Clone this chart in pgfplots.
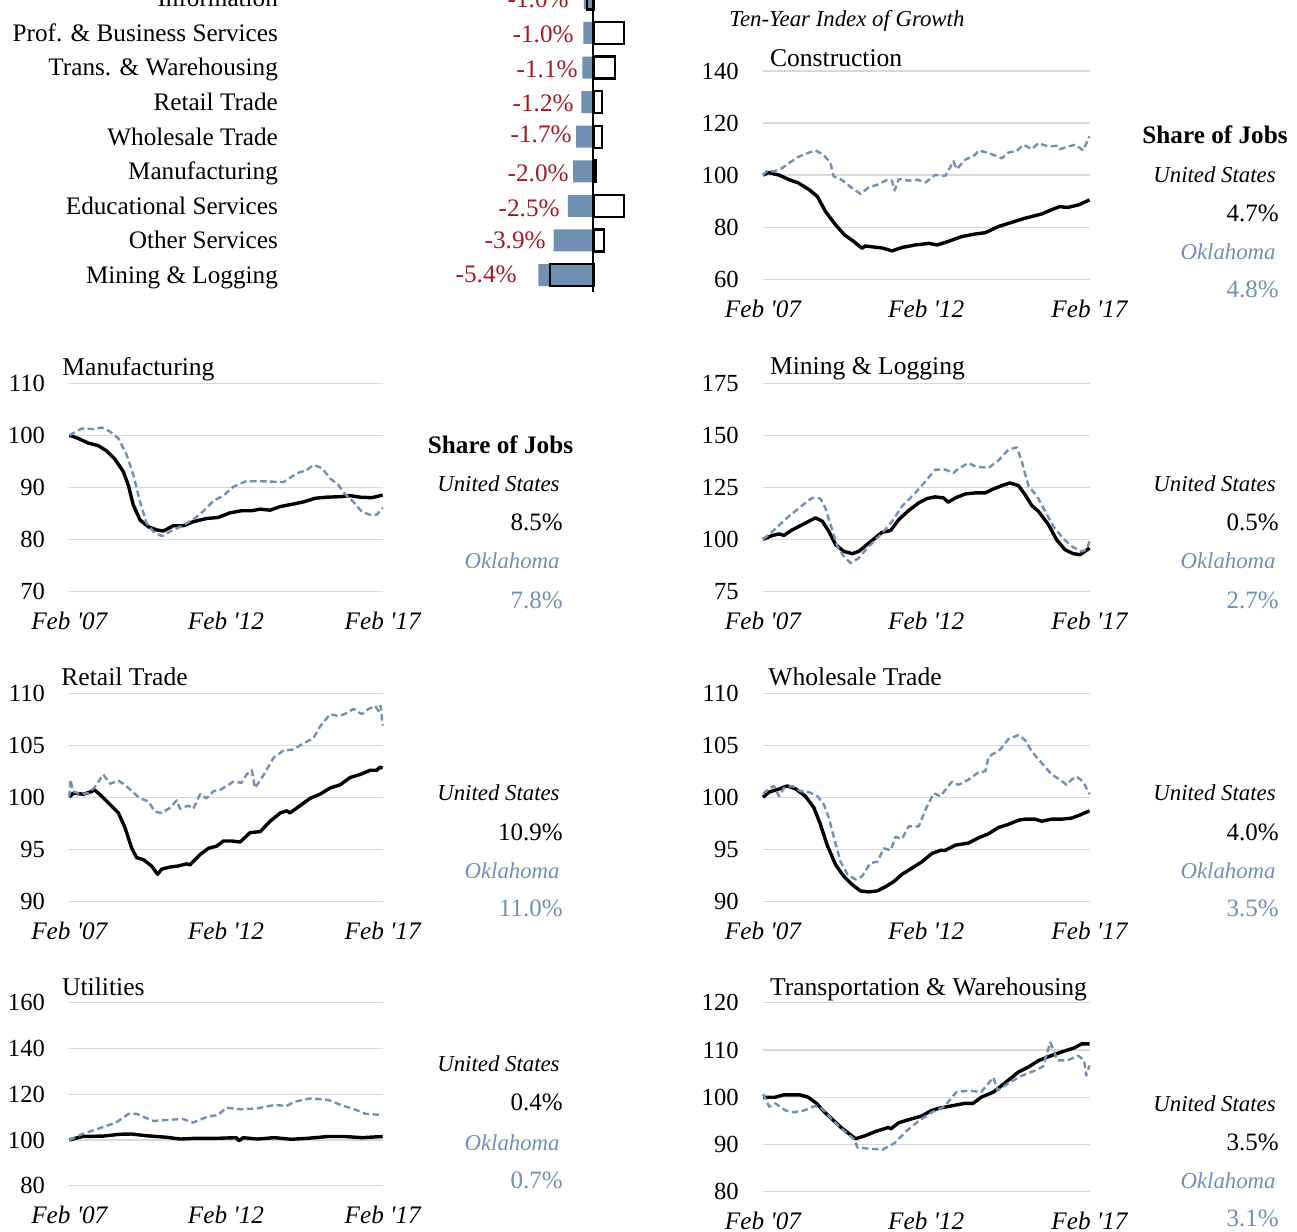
\documentclass[border=0pt]{standalone}
\usepackage{fontspec}
\setmainfont{Liberation Serif}
\usepackage{pgfplots}
\pgfplotsset{compat=1.18}
\definecolor{okblue}{RGB}{112,144,180}
\definecolor{lblred}{RGB}{160,28,36}
\definecolor{gridgray}{RGB}{217,217,217}
\newcommand\tickit{\fontsize{12.6}{15}\selectfont\itshape}
\newcommand\tickf{\fontsize{12.3}{15}\selectfont}
\newcommand\titlef{\fontsize{12.8}{15}\selectfont}
\newcommand\catf{\fontsize{12.6}{15}\selectfont}
\newcommand\itf{\fontsize{11.4}{14}\selectfont\itshape}
\newcommand\pctf{\fontsize{12.5}{15}\selectfont}
\pgfplotsset{
 panel/.style={scale only axis, anchor=south west, xmin=0, xmax=120,
   xtick={0,60,120}, xticklabels={Feb \textquotesingle07,Feb \textquotesingle12,Feb \textquotesingle17},
   axis line style={draw=none}, tick style={draw=none},
   ymajorgrids, grid style={gridgray, line width=0.7pt},
   xticklabel style={font=\tickit, anchor=base, inner sep=0pt, yshift=-19pt},
   yticklabel style={font=\tickf, anchor=east, inner sep=0pt, xshift=-12pt},
   /pgf/number format/assume math mode=true,
   clip=false},
 us/.style={black, line width=1.7pt, line join=round},
 ok/.style={okblue, line width=1.2pt, line join=round, dash pattern=on 3.2pt off 1.8pt},
}
\begin{document}
\begin{tikzpicture}
\useasboundingbox (0,0) rectangle (648.5pt,-616pt);
\clip (0,0) rectangle (648.5pt,-616pt);

% ---------------- bar chart -----------------
\begin{axis}[at={(266.15pt,-146.15pt)}, anchor=south west, scale only axis,
  width=51pt, height=155.6pt, xmin=-6, xmax=4, ymin=-0.5, ymax=8.5, y dir=reverse,
  axis line style={draw=none}, tick style={draw=none}, xtick=\empty,
  ytick={0,...,8},
  yticklabels={Information,Prof. \& Business Services,Trans. \& Warehousing,Retail Trade,Wholesale Trade,Manufacturing,Educational Services,Other Services,Mining \& Logging},
  yticklabel style={font=\catf, anchor=base east, inner sep=0pt, xshift=-127pt, yshift=-4.2pt},
  clip=false]
\addplot[xbar, bar shift=0pt, bar width=11pt, fill=okblue, draw=none]
  coordinates {(-0.95,0) (-1.0,1) (-1.1,2) (-1.2,3) (-1.7,4) (-2.0,5) (-2.5,6) (-3.9,7) (-5.4,8)};
\addplot[xbar, bar shift=0pt, bar width=11pt, fill=none, draw=black, line width=1.1pt]
  coordinates {(-0.6,0) (3.0,1) (2.1,2) (0.85,3) (0.85,4) (0.2,5) (3.0,6) (1.0,7) (-4.3,8)};
\draw[black, line width=1pt] (axis cs:0,-0.5) -- (axis cs:0,8.5);
\end{axis}

% ---------------- Construction -----------------
\begin{axis}[panel, at={(381.5pt,-139.65pt)}, width=163.25pt, height=104.15pt,
  ymin=60, ymax=140, ytick={60,80,100,120,140}]
\addplot[us] coordinates {(0,100) (2,101) (6,100) (9.5,98.3) (13,97) (17,94.4) (20,91.8) (23,86) (26.7,80.9) (30,77) (33.4,74.5) (36.4,71.9) (37.5,72.8) (44,72) (47.4,70.9) (51,72.2) (56,73.2) (61,73.8) (64,73.2) (68,74.5) (73,76.4) (78,77.4) (81.7,77.9) (86.6,80.3) (91.5,81.9) (96.4,83.5) (102.5,85.1) (106,86.7) (109,87.9) (112,87.6) (116,88.6) (120,90.5)};
\addplot[ok] coordinates {(0,100) (1.5,101.7) (4,101.4) (7,102.7) (9.5,104.6) (12.6,106.8) (15.6,108.2) (19.3,109.5) (22.3,107.8) (24.8,104.6) (26,99.5) (29,98.2) (32.8,95) (35.8,92.8) (38.8,95.3) (42.5,96.5) (45.6,98.2) (47.4,97.9) (48.4,94.1) (49.9,98.5) (53.5,97.9) (57,98.2) (59.7,97.2) (63.3,100.1) (67,99.7) (70,105.3) (71.2,102.3) (74.3,105.9) (78,107.8) (79.2,109.5) (82.9,108.5) (87.8,106.5) (90.2,108.7) (93.3,109.4) (95.8,111.7) (98.8,110) (101.2,112.3) (104.9,111) (108,111.3) (109.1,110) (111.6,110.8) (114.7,111.7) (117.7,109.5) (120,114.9)};
\end{axis}

% ---------------- Manufacturing -----------------
\begin{axis}[panel, at={(34.65pt,-295.65pt)}, width=156.7pt, height=104pt,
  ymin=70, ymax=110, ytick={70,80,90,100,110}]
\addplot[us] coordinates {(0,100) (3.4,99.4) (7.3,98.5) (11.1,98) (14.3,97) (17.5,95.4) (20.7,93) (22.6,90.4) (24.5,86.6) (27.1,83.7) (30.3,82.4) (33.5,81.8) (36,81.6) (39.8,82.6) (43.7,82.6) (47.5,83.4) (52.6,84) (57,84.2) (61.6,85.1) (66,85.5) (69.9,85.5) (73.1,85.8) (76.9,85.6) (80.8,86.3) (86,86.8) (89.7,87.2) (94.2,87.9) (98.6,88.1) (103.8,88.2) (107.5,88.4) (111.4,88.1) (115.8,88) (120,88.5)};
\addplot[ok] coordinates {(0,100) (4.7,101.3) (9.2,101.2) (12.4,101.5) (15.6,100.7) (18.8,99.4) (22,96.2) (24.5,92.4) (27.1,87.2) (29.6,83.1) (32.2,81.5) (35.4,80.6) (38.6,81.5) (42.4,82.4) (47.5,83.8) (51.3,85.4) (55.2,87.4) (59,88.4) (62.8,90.1) (67.3,91.1) (71.7,91.2) (76.9,91.1) (82,91) (87.1,92.7) (90.9,93.3) (93.5,94.3) (96.7,93.7) (99.9,91.7) (103.1,90.4) (105.6,88.7) (108.8,87.2) (112,85.3) (115.2,84.7) (117.7,84.7) (120,86.1)};
\end{axis}

% ---------------- Mining -----------------
\begin{axis}[panel, at={(381.5pt,-295.65pt)}, width=163.25pt, height=104pt,
  ymin=75, ymax=175, ytick={75,100,125,150,175}]
\addplot[us] coordinates {(0,100) (3.4,101.8) (5.9,102.6) (7.7,101.9) (10.8,104.6) (14.4,107) (16.9,108.7) (19.3,110.3) (21.8,108.7) (24.2,103.8) (26.7,97.4) (29.7,94.2) (32.8,93.1) (35.2,94.2) (38.9,98.2) (43.8,103.4) (46.9,104.2) (49.9,109.5) (53.5,113.8) (57.2,117.5) (60.3,119.6) (63.3,120.4) (66.4,119.9) (68,117.8) (70.7,119.9) (74.3,121.8) (78,122.3) (81.7,122.3) (84.1,123.9) (87.8,125.8) (90.8,127.1) (93.9,125.8) (96.3,121.5) (98.8,116.2) (101.2,113.5) (104.9,107.1) (107.9,99.8) (111,95) (114,93.1) (116.5,92.6) (118.3,94.2) (120,95.8)};
\addplot[ok] coordinates {(0,100) (2.8,103) (5.9,106.7) (9.5,111.1) (12.6,114.3) (15.6,117.5) (18.1,119.9) (21.1,119.6) (22.9,115.1) (24.8,107.1) (27.3,96.6) (29.7,91.8) (32.2,88.6) (35.2,91) (38.9,96.6) (43.8,103) (47.5,108.7) (51.1,115.9) (56,122.3) (59.7,127.9) (63.3,133.5) (67,133.5) (70,131.9) (71.9,134) (75.5,136.7) (78,135.1) (82.9,134.3) (86.6,138) (90.2,143.1) (93.3,144.2) (95.1,137.5) (97.6,125.5) (100.6,121) (103.7,113.5) (106.7,106.3) (110.4,100.2) (114,96.2) (117.1,94.2) (118.9,95) (120,99)};
\end{axis}

% ---------------- Retail -----------------
\begin{axis}[panel, at={(34.65pt,-450.65pt)}, width=156.7pt, height=104pt,
  ymin=90, ymax=110, ytick={90,95,100,105,110}]
\addplot[us] coordinates {(0,100) (1.5,100.4) (5.4,100.3) (7.9,100.5) (9.8,100.7) (12.4,100.1) (15.6,99.3) (18.8,98.5) (21.3,97.1) (23.9,95.1) (25.8,94.2) (28.4,94) (31.5,93.4) (33.8,92.6) (35.4,93.1) (38.6,93.3) (41.8,93.4) (44.9,93.6) (46.2,93.5) (50.1,94.5) (53.3,95.1) (56.4,95.3) (59,95.8) (62.2,95.8) (65.4,95.7) (69.2,96.6) (73.1,96.7) (76.9,97.7) (80.8,98.5) (83.3,98.7) (84.5,98.5) (88.4,99.2) (92.2,99.9) (96,100.3) (99.9,100.9) (103.7,101.2) (107.5,101.9) (111.4,102.2) (115.2,102.6) (117.7,102.6) (119,102.9) (120,102.8)};
\addplot[ok] coordinates {(0,100) (0.5,101.7) (1.3,100.6) (4.1,100.3) (7.3,100.4) (9.8,101) (13,102.2) (15.6,101.3) (18.8,101.6) (21.3,101.2) (23.9,100.6) (27.1,99.9) (30.3,99.6) (32.8,98.6) (35.4,98.5) (38.6,99) (41.1,99.7) (42.4,98.9) (45.6,99.2) (47.5,98.9) (50.1,100.3) (52.6,99.9) (55.2,100.6) (57.7,100.7) (60.3,101.1) (62.8,101.5) (66,101.4) (67.9,102.2) (69.9,102.6) (71.1,100.9) (74.3,102.1) (78.2,103.8) (82,104.5) (85.9,104.6) (88.4,105) (93.5,105.7) (96,106.8) (99.9,108) (103.1,107.8) (106.3,108.1) (108.8,108.5) (112,108) (114.6,108.5) (117.1,108.8) (118.4,108.3) (119.2,108.8) (120,106.9)};
\end{axis}

% ---------------- Wholesale -----------------
\begin{axis}[panel, at={(381.5pt,-450.65pt)}, width=163.25pt, height=104pt,
  ymin=90, ymax=110, ytick={90,95,100,105,110}]
\addplot[us] coordinates {(0,100) (2.2,100.5) (5.9,100.8) (8.9,101.1) (12,100.8) (15.6,100.1) (18.7,99) (21.1,97.4) (23.6,95.4) (26.7,93.5) (29.7,92.4) (32.8,91.6) (35.8,91) (38.9,90.9) (42,91) (45,91.4) (48.1,91.9) (51.1,92.6) (54.8,93.2) (58.4,93.8) (62.1,94.6) (65.2,94.9) (67,94.9) (70.7,95.4) (75.5,95.6) (79.2,96.1) (82.9,96.5) (86.6,97.1) (90.2,97.4) (93.9,97.8) (96.3,97.9) (100,97.9) (102.4,97.7) (106.1,97.9) (109.8,97.9) (113.4,98) (116.5,98.3) (120,98.7)};
\addplot[ok] coordinates {(0,100.3) (1.6,100.7) (4,101.1) (5.9,100.1) (7.7,100.9) (10.8,101.1) (13.8,100.6) (16.9,100.5) (20,100.1) (22.4,99.3) (24.2,98) (26.1,96.1) (28.5,93.8) (31,92.6) (34,92.1) (36.4,92.4) (39.5,93.7) (42,93.8) (44.4,95.1) (46.9,94.9) (48.7,96.2) (51.1,96) (53.5,97.2) (57.2,97.2) (59.7,98.8) (62.7,100.4) (65.2,100.1) (69.4,101.5) (71.9,101.2) (75.5,101.7) (79.2,102.4) (81.7,102.5) (82.9,103.9) (87.2,104.6) (90.2,105.6) (93.9,106) (96.3,105.5) (98.8,104.4) (102.4,103.3) (106.1,102.2) (109.1,101.7) (111.6,101.2) (113.4,101.7) (115.2,102) (117.7,101.5) (120,100.3)};
\end{axis}

% ---------------- Utilities -----------------
\begin{axis}[panel, at={(34.65pt,-592.85pt)}, width=156.7pt, height=91.5pt,
  ymin=80, ymax=160, ytick={80,100,120,140,160}]
\addplot[us] coordinates {(0,100) (5,101.5) (13,101.7) (19.5,102.5) (24,102.6) (29,101.9) (37,101.2) (42.6,100.4) (48,100.7) (56,100.7) (64,101) (65,99.6) (66.5,101) (72,100.4) (78.5,101) (85,100.3) (91,100.7) (99,101.5) (105.6,101.5) (112,101) (120,101.5)};
\addplot[ok] coordinates {(0,100) (5,102.6) (11.5,105.1) (17.9,107.6) (22.7,111.4) (25.8,111.4) (32.2,108.3) (37,108.7) (43.4,109.2) (47.4,107.6) (53,110.2) (57,110.9) (60,114.1) (65.7,113.4) (72,113.8) (78.5,115.3) (83.2,114.9) (86.4,116.8) (92.8,118.2) (99.2,117.5) (104,115.3) (108.7,113.6) (113.5,111.4) (120,110.9)};
\end{axis}

% ---------------- Transportation -----------------
\begin{axis}[panel, at={(381.5pt,-595.85pt)}, width=163.25pt, height=94.5pt,
  ymin=80, ymax=120, ytick={80,90,100,110,120}]
\addplot[us] coordinates {(0,100) (4.5,100) (7.6,100.5) (13.6,100.5) (16.6,100) (19.7,98.7) (22.7,96.8) (25.7,95.2) (28.7,93.6) (31.8,92.2) (34,91.2) (37.8,91.9) (41.6,92.8) (46.1,93.6) (47,93.3) (49.9,94.6) (54.5,95.4) (58.2,96) (62,97.2) (65,97.7) (69.6,98.2) (74.1,98.7) (77.2,98.7) (80.2,100) (84.7,101.1) (89.3,103.2) (93.8,105.3) (97.6,106.4) (101.4,107.8) (105.9,108.8) (110.4,109.7) (114.2,110.4) (117.2,111.3) (120,111.3)};
\addplot[ok] coordinates {(0,100.7) (2.3,98) (4.5,98.7) (8.3,97.2) (11.3,96.8) (15.1,97.2) (18.9,98.1) (21.2,97.9) (25.7,95.1) (30.3,92.6) (33.3,91.2) (34.8,89.3) (39.3,89.1) (43.9,88.9) (48.4,90.3) (53,93) (57.5,95.1) (62,96.8) (66.6,98) (71.1,101.1) (75.6,101.4) (80.2,101.1) (84.7,104.2) (86.2,101.4) (90.8,103.2) (95.3,104.6) (99.8,105.6) (102.9,106.5) (105.6,111.6) (108.2,107.8) (112,107.8) (115.8,108.8) (118,107.8) (118.8,104.6) (120,106.7)};
\end{axis}

% ---------------- texts -----------------
\begin{scope}[x=0.5pt,y=-0.5pt]
% bar value labels
\begin{scope}[every node/.style={anchor=base east, inner sep=0pt, font=\catf, text=lblred}]
\node at (569,7) {-1.0\%};
\node at (574,42.7) {-1.0\%};
\node at (578,77.3) {-1.1\%};
\node at (574,111) {-1.2\%};
\node at (572,142.7) {-1.7\%};
\node at (569,181.7) {-2.0\%};
\node at (560,216) {-2.5\%};
\node at (546,248.3) {-3.9\%};
\node at (517,282.7) {-5.4\%};
\end{scope}
% titles
\begin{scope}[every node/.style={anchor=base west, inner sep=0pt, font=\titlef}]
\node at (769.6,66.7) {Construction};
\node at (62,375) {Manufacturing};
\node at (769.6,374.3) {Mining \& Logging};
\node at (61,685) {Retail Trade};
\node at (768,685) {Wholesale Trade};
\node at (61.7,995) {Utilities};
\node at (769.6,995) {Transportation \& Warehousing};
\end{scope}
\node[anchor=base west, inner sep=0pt, font=\itf] at (729,26.7) {Ten-Year Index of Growth};
% share of jobs blocks
\begin{scope}[every node/.style={anchor=base east, inner sep=0pt}]
% construction
\node[font=\catf\bfseries] at (1288,143) {Share of Jobs};
\node[font=\itf] at (1276,182) {United States};
\node[font=\pctf] at (1279,221.5) {4.7\%};
\node[font=\itf, text=okblue] at (1276,259) {Oklahoma};
\node[font=\pctf, text=okblue] at (1279,297.5) {4.8\%};
% manufacturing
\node[font=\catf\bfseries] at (573.5,453) {Share of Jobs};
\node[font=\itf] at (560,491.7) {United States};
\node[font=\pctf] at (563,530) {8.5\%};
\node[font=\itf, text=okblue] at (560,568.3) {Oklahoma};
\node[font=\pctf, text=okblue] at (563,608) {7.8\%};
% mining
\node[font=\itf] at (1276,491.7) {United States};
\node[font=\pctf] at (1279,530) {0.5\%};
\node[font=\itf, text=okblue] at (1276,568.3) {Oklahoma};
\node[font=\pctf, text=okblue] at (1279,608.3) {2.7\%};
% retail
\node[font=\itf] at (560,800.7) {United States};
\node[font=\pctf] at (563,840) {10.9\%};
\node[font=\itf, text=okblue] at (560,878.3) {Oklahoma};
\node[font=\pctf, text=okblue] at (563,916.7) {11.0\%};
% wholesale
\node[font=\itf] at (1276,800.7) {United States};
\node[font=\pctf] at (1279,840) {4.0\%};
\node[font=\itf, text=okblue] at (1276,878.3) {Oklahoma};
\node[font=\pctf, text=okblue] at (1279,916.7) {3.5\%};
% utilities
\node[font=\itf] at (560,1071.7) {United States};
\node[font=\pctf] at (563,1110) {0.4\%};
\node[font=\itf, text=okblue] at (560,1150) {Oklahoma};
\node[font=\pctf, text=okblue] at (563,1188.3) {0.7\%};
% transportation
\node[font=\itf] at (1276,1111.7) {United States};
\node[font=\pctf] at (1279,1150) {3.5\%};
\node[font=\itf, text=okblue] at (1276,1188.3) {Oklahoma};
\node[font=\pctf, text=okblue] at (1279,1226.7) {3.1\%};
\end{scope}
\end{scope}
\end{tikzpicture}
\end{document}
